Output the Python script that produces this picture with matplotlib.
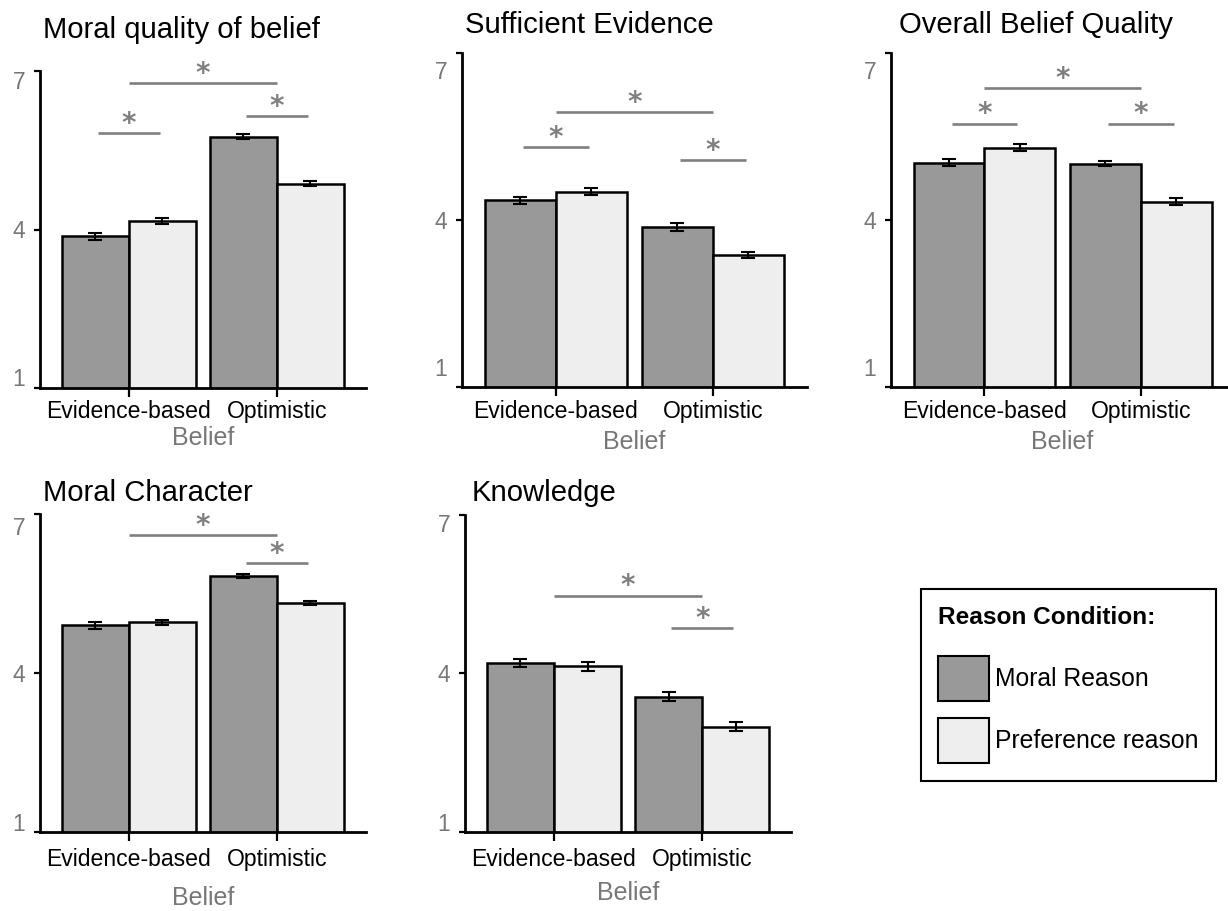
import matplotlib
matplotlib.use('Agg')
import matplotlib.pyplot as plt
from matplotlib.patches import Patch
from matplotlib.transforms import ScaledTranslation
import numpy as np

plt.rcParams['font.family'] = ['Liberation Sans', 'DejaVu Sans']

# ---------------- data ----------------
beliefs = ['Evidence-based', 'Optimistic']
conditions = ['Moral Reason', 'Preference reason']
titles = ['Moral quality of belief', 'Sufficient Evidence', 'Overall Belief Quality',
          'Moral Character', 'Knowledge']
y_ticks = [1, 4, 7]
x_label = 'Belief'
legend_title = 'Reason Condition:'

moral_quality_moral = [3.87, 5.76]
moral_quality_pref = [4.16, 4.87]
moral_quality_moral_se = [0.07, 0.05]
moral_quality_pref_se = [0.06, 0.05]

evidence_moral = [4.35, 3.87]
evidence_pref = [4.51, 3.37]
evidence_moral_se = [0.07, 0.07]
evidence_pref_se = [0.07, 0.06]

overall_moral = [5.03, 5.01]
overall_pref = [5.30, 4.33]
overall_moral_se = [0.06, 0.05]
overall_pref_se = [0.06, 0.06]

character_moral = [4.90, 5.83]
character_pref = [4.96, 5.33]
character_moral_se = [0.06, 0.04]
character_pref_se = [0.05, 0.04]

knowledge_moral = [4.20, 3.56]
knowledge_pref = [4.13, 2.99]
knowledge_moral_se = [0.08, 0.09]
knowledge_pref_se = [0.08, 0.08]

# significance bracket heights: (within Evidence-based, within Optimistic, between beliefs)
moral_quality_sig = [5.82, 6.15, 6.77]
evidence_sig = [5.31, 5.07, 5.93]
overall_sig = [5.73, 5.73, 6.36]
character_sig = [None, 6.07, 6.61]
knowledge_sig = [None, 4.85, 5.47]

panels = [
    (moral_quality_moral, moral_quality_pref, moral_quality_moral_se, moral_quality_pref_se, moral_quality_sig),
    (evidence_moral, evidence_pref, evidence_moral_se, evidence_pref_se, evidence_sig),
    (overall_moral, overall_pref, overall_moral_se, overall_pref_se, overall_sig),
    (character_moral, character_pref, character_moral_se, character_pref_se, character_sig),
    (knowledge_moral, knowledge_pref, knowledge_moral_se, knowledge_pref_se, knowledge_sig),
]

# ---------------- styling / layout ----------------
W, H = 1228, 911
DPI = 100
c_moral = '#999999'
c_pref = '#eeeeee'
sig_color = '#7f7f7f'
tick_gray = '#777777'

# (left, right, top, bottom) in pixels, group spacing px
boxes = [
    (40.0, 365.6, 71.0, 388.0, 148.0),
    (461.7, 807.1, 52.7, 387.3, 157.0),
    (890.7, 1228.0, 52.7, 387.3, 156.3),
    (40.0, 365.6, 514.3, 831.7, 148.0),
    (465.0, 791.0, 515.0, 831.7, 148.3),
]
xtick_pad = [2.0, 2.5, 2.5, 5.5, 5.5]
belief_off = [36.0, 39.5, 39.5, 48.0, 44.0]
ytl_shift = [(-9, 11), (-17, 20), (-17, 20), (-12, 10), (-8, 10)]  # px shift of '7' (down) and '1' (up)
title_pos = [(42.7, 38.3), (465.0, 33.3), (899.0, 33.3), (42.7, 500.7), (471.7, 500.7)]

fig = plt.figure(figsize=(W / DPI, H / DPI), dpi=DPI)
fig.patch.set_facecolor('white')

bw = 0.453
x = np.arange(len(beliefs))

for i, (m, p, mse, pse, sig) in enumerate(panels):
    l, r, t, b, sp = boxes[i]
    ax = fig.add_axes([l / W, 1 - b / H, (r - l) / W, (b - t) / H])
    ax.set_xlim(-0.6, -0.6 + (r - l) / sp)
    ax.set_ylim(1, 7)
    ax.bar(x - bw / 2, m, width=bw, color=c_moral, edgecolor='black', linewidth=1.8, zorder=2)
    ax.bar(x + bw / 2, p, width=bw, color=c_pref, edgecolor='black', linewidth=1.8, zorder=2)
    ax.errorbar(x - bw / 2, m, yerr=mse, fmt='none', ecolor='black', elinewidth=1.5,
                capsize=4.7, capthick=1.5, zorder=3)
    ax.errorbar(x + bw / 2, p, yerr=pse, fmt='none', ecolor='black', elinewidth=1.5,
                capsize=4.7, capthick=1.5, zorder=3)

    for s in ['top', 'right']:
        ax.spines[s].set_visible(False)
    for s in ['left', 'bottom']:
        ax.spines[s].set_linewidth(2.0)
        ax.spines[s].set_zorder(4)

    ax.set_yticks(y_ticks)
    ax.set_xticks(x)
    ax.set_xticklabels(beliefs)
    ax.tick_params(axis='y', length=4.5, width=1.6, pad=6, labelcolor=tick_gray, labelsize=16.5)
    ax.tick_params(axis='x', length=6.5, width=1.6, pad=xtick_pad[i], labelsize=16.6)

    labs = ax.get_yticklabels()
    d7, d1 = ytl_shift[i]
    labs[-1].set_transform(labs[-1].get_transform() +
                           ScaledTranslation(0, d7 * 0.72 / 72, fig.dpi_scale_trans))
    labs[0].set_transform(labs[0].get_transform() +
                          ScaledTranslation(0, d1 * 0.72 / 72, fig.dpi_scale_trans))

    ax.annotate(x_label, xy=(0.5, 0), xycoords=('data', 'axes fraction'),
                xytext=(0, -belief_off[i]), textcoords='offset points',
                ha='center', va='center', fontsize=18, color=tick_gray)

    # significance markers
    within0, within1, between = sig
    segs = []
    if within0 is not None:
        segs.append((x[0] - 0.21, x[0] + 0.21, within0))
    if within1 is not None:
        segs.append((x[1] - 0.21, x[1] + 0.21, within1))
    if between is not None:
        segs.append((x[0], x[1], between))
    for x0, x1, yv in segs:
        ax.plot([x0, x1], [yv, yv], color=sig_color, lw=1.9, solid_capstyle='butt',
                clip_on=False, zorder=3)
        ax.annotate('*', xy=((x0 + x1) / 2, yv), xytext=(0, 1), textcoords='offset points',
                    ha='center', va='baseline', fontsize=20, fontweight='bold',
                    color=sig_color, family='DejaVu Sans')

    tx, ty = title_pos[i]
    fig.text(tx / W, 1 - ty / H, titles[i], ha='left', va='baseline', fontsize=21.1, color='black')

handles = [Patch(facecolor=c_moral, edgecolor='black', linewidth=1.5, label=conditions[0]),
           Patch(facecolor=c_pref, edgecolor='black', linewidth=1.5, label=conditions[1])]
leg = fig.legend(handles=handles, loc='upper left',
                 bbox_to_anchor=(920.7 / W, 1 - 589.0 / H),
                 title=legend_title,
                 title_fontproperties={'weight': 'bold', 'size': 17.6},
                 fontsize=17.8, handlelength=2.05, handleheight=2.45, handletextpad=0.25,
                 labelspacing=0.68, borderpad=0.7, alignment='left', frameon=True,
                 fancybox=False, edgecolor='black', framealpha=1, borderaxespad=0)
leg.get_frame().set_linewidth(1.5)
leg._legend_box.sep = 19.0

fig.savefig('out.png', dpi=DPI, facecolor='white')
